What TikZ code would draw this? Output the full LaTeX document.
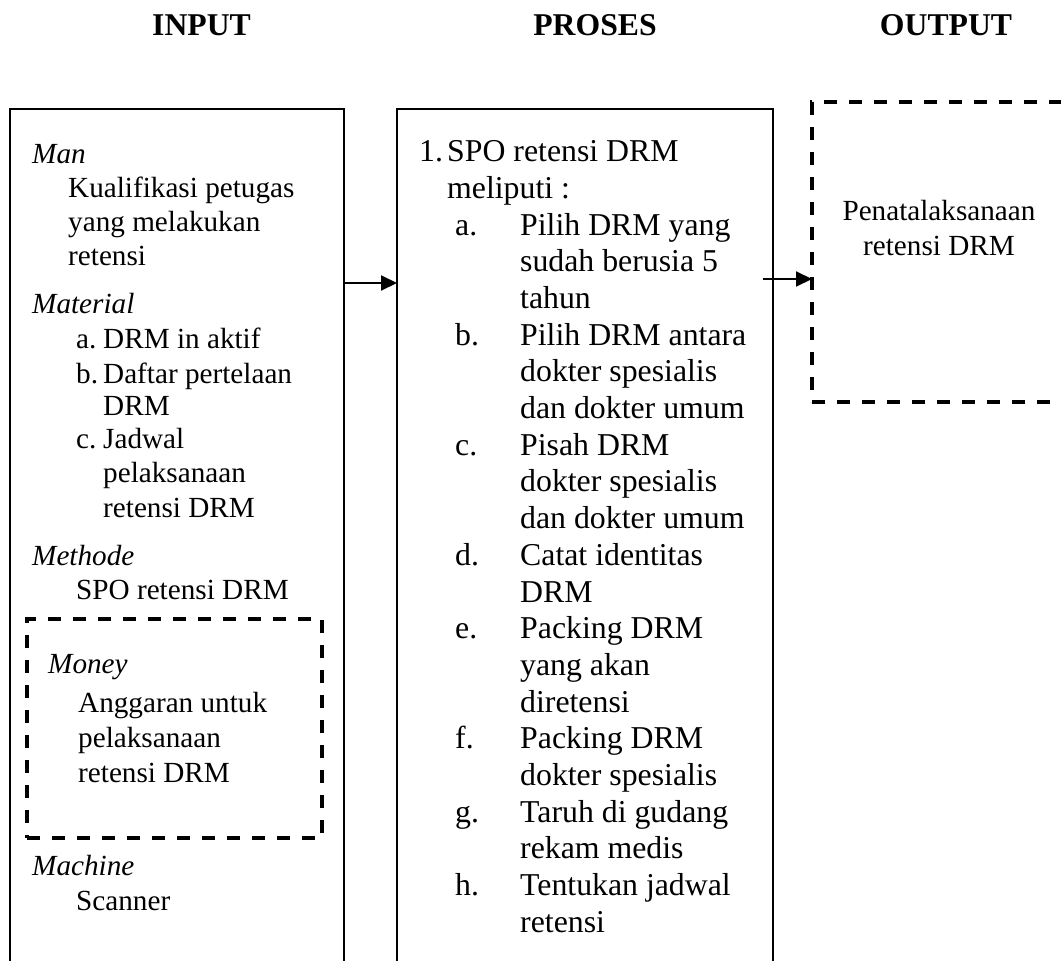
\documentclass[tikz,border=0pt]{standalone}
\usepackage{fontspec}
\setmainfont{Liberation Serif}
\usetikzlibrary{arrows.meta}
\begin{document}
\begin{tikzpicture}[x=1pt,y=-1pt,
  solidbox/.style={draw, line width=2pt, inner sep=0pt, outer sep=0pt, rectangle},
  dashbox/.style={draw, line width=3.5pt, dash pattern=on 13pt off 12pt, inner sep=0pt, outer sep=0pt, rectangle},
  arr/.style={line width=2pt, -{Triangle[length=16pt,width=15pt]}},
  head/.style={font=\fontsize{31.7}{36}\selectfont\bfseries, anchor=base, inner sep=0pt},
  lt/.style={font=\fontsize{29.2}{34.5}\selectfont, anchor=base west, inner sep=0pt},
  li/.style={font=\fontsize{29.2}{34.5}\selectfont\itshape, anchor=base west, inner sep=0pt},
  mt/.style={font=\fontsize{31.8}{36.7}\selectfont, anchor=base west, inner sep=0pt},
  ot/.style={font=\fontsize{29.2}{34.5}\selectfont, anchor=base, inner sep=0pt}]
\useasboundingbox (0,0) rectangle (1061,961);
\clip (0,0) rectangle (1061,961);
\fill[white] (0,0) rectangle (1061,961);

% headings
\node[head] (hin) at (201.5,35) {INPUT};
\node[head] (hpr) at (595,35) {PROSES};
\node[head] (hout) at (946,35) {OUTPUT};

% boxes
\node[solidbox, minimum width=334pt, minimum height=900pt, anchor=north west] (lbox) at (10,109) {};
\node[solidbox, minimum width=376pt, minimum height=900pt, anchor=north west] (mbox) at (397,109) {};
\node[dashbox, minimum width=300pt, minimum height=300pt, anchor=north west] (obox) at (812,102) {};
\node[dashbox, minimum width=295pt, minimum height=219pt, anchor=north west] (money) at (27,619) {};

% left box text
\node[li] (l1) at (32,163) {Man};
\node[lt] (l2) at (68,197) {Kualifikasi petugas};
\node[lt] (l3) at (68,231) {yang melakukan};
\node[lt] (l4) at (68,265) {retensi};
\node[li] (l5) at (32,313) {Material};
\node[lt] (l6) at (76,348) {a.};
\node[lt] (l6t) at (103,348) {DRM in aktif};
\node[lt] (l7) at (76,383) {b.};
\node[lt] (l7t) at (103,383) {Daftar pertelaan};
\node[lt] (l8) at (103,415) {DRM};
\node[lt] (l9) at (76,448) {c.};
\node[lt] (l9t) at (103,448) {Jadwal};
\node[lt] (l10) at (103,482) {pelaksanaan};
\node[lt] (l11) at (103,517) {retensi DRM};
\node[li] (l12) at (32,565) {Methode};
\node[lt] (l13) at (76,599) {SPO retensi DRM};
\node[li] (l14) at (48,673) {Money};
\node[lt] (l15) at (78,712) {Anggaran untuk};
\node[lt] (l16) at (78,747) {pelaksanaan};
\node[lt] (l17) at (78,782) {retensi DRM};
\node[li] (l18) at (32,875) {Machine};
\node[lt] (l19) at (76,910) {Scanner};

% middle box text
\node[mt] (m0) at (419,161.6) {1.};
\node[mt] (m0t) at (447,161.6) {SPO retensi DRM};
\node[mt] (m1) at (447,198.3) {meliputi :};
\foreach \k/\lab/\txt in {0/a./Pilih DRM yang,1//sudah berusia 5,2//tahun,
  3/b./Pilih DRM antara,4//dokter spesialis,5//dan dokter umum,
  6/c./Pisah DRM,7//dokter spesialis,8//dan dokter umum,
  9/d./Catat identitas,10//DRM,
  11/e./Packing DRM,12//yang akan,13//diretensi,
  14/f./Packing DRM,15//dokter spesialis,
  16/g./Taruh di gudang,17//rekam medis,
  18/h./Tentukan jadwal,19//retensi}{
  \node[mt] (ml\k) at (455,235+36.7*\k) {\lab};
  \node[mt] (mt\k) at (520,235+36.7*\k) {\txt};
}

% output text
\node[ot] (o1) at (939,220) {Penatalaksanaan};
\node[ot] (o2) at (939,255) {retensi DRM};

% arrows
\coordinate (a1) at (0,283);
\draw[arr] (lbox.east |- a1) -- (mbox.west |- a1);
\coordinate (a2) at (763,279);
\draw[arr] (a2) -- (obox.west |- a2);
\end{tikzpicture}
\end{document}
